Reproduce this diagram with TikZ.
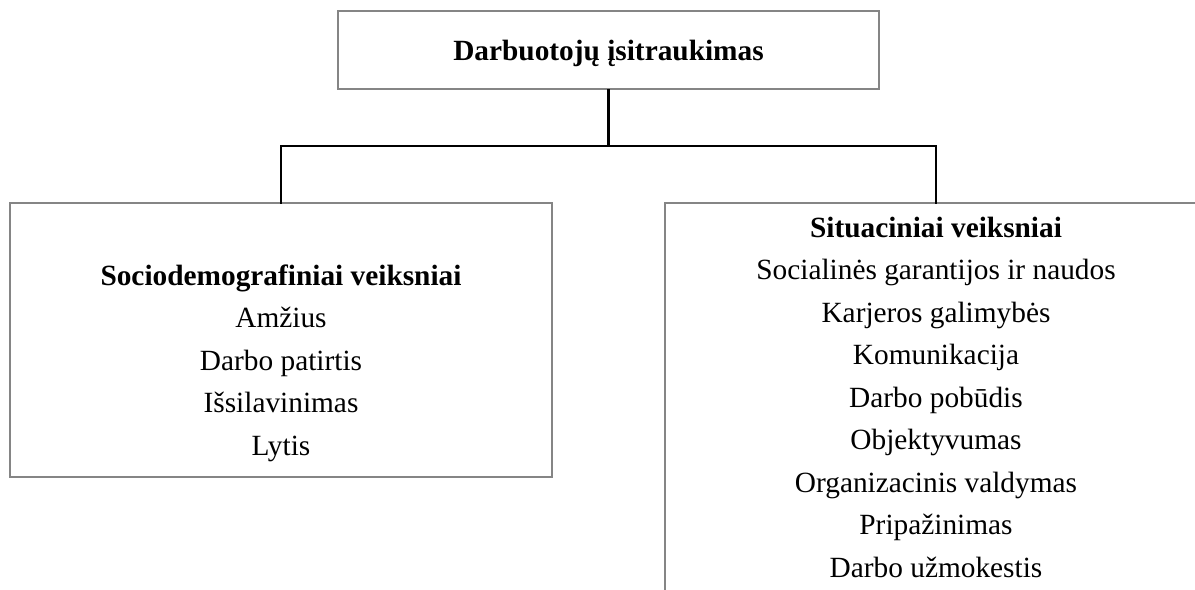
\documentclass[tikz,border=0pt]{standalone}
\usepackage{fontspec}
\setmainfont{Liberation Serif}
\begin{document}
\begin{tikzpicture}[x=0.75pt,y=-0.75pt,
  boxline/.style={draw=black!48, line width=1.5pt},
  conn/.style={draw=black, line width=2.2pt},
  txt/.style={font=\fontsize{22pt}{26pt}\selectfont, anchor=base, inner sep=0pt},
  head/.style={txt, font=\fontsize{22pt}{26pt}\selectfont\bfseries}]
\useasboundingbox (0,0) rectangle (1195,589);
% boxes
\path[boxline] (338,11) rectangle (879,89);
\path[boxline] (10,203) rectangle (552,477);
\path[boxline] (1207,203) -- (665,203) -- (665,600);
\node[head] (top) at (608.5,60) {Darbuotojų įsitraukimas};
\coordinate (topb) at (608.5,89);
\coordinate (lt) at (281,203);
\coordinate (rt) at (936,203);
\coordinate (lm) at (281,146);
\coordinate (rm) at (936,146);
\coordinate (mm) at (608.5,146);
\draw[conn] (topb) -- (mm);
\draw[conn, line cap=rect] (lt) -- (lm) -- (rm) -- (rt);
% left box text
\node[head] (lh) at (281,285) {Sociodemografiniai veiksniai};
\node[txt] (l1) at (281,327.5) {Amžius};
\node[txt] (l2) at (281,370) {Darbo patirtis};
\node[txt] (l3) at (281,412.5) {Išsilavinimas};
\node[txt] (l4) at (281,455) {Lytis};
% right box text
\node[head] (rh) at (936,237) {Situaciniai veiksniai};
\node[txt] (r1) at (936,279.5) {Socialinės garantijos ir naudos};
\node[txt] (r2) at (936,322) {Karjeros galimybės};
\node[txt] (r3) at (936,364.5) {Komunikacija};
\node[txt] (r4) at (936,407) {Darbo pobūdis};
\node[txt] (r5) at (936,449.5) {Objektyvumas};
\node[txt] (r6) at (936,492) {Organizacinis valdymas};
\node[txt] (r7) at (936,534.5) {Pripažinimas};
\node[txt] (r8) at (936,577) {Darbo užmokestis};
\end{tikzpicture}
\end{document}
